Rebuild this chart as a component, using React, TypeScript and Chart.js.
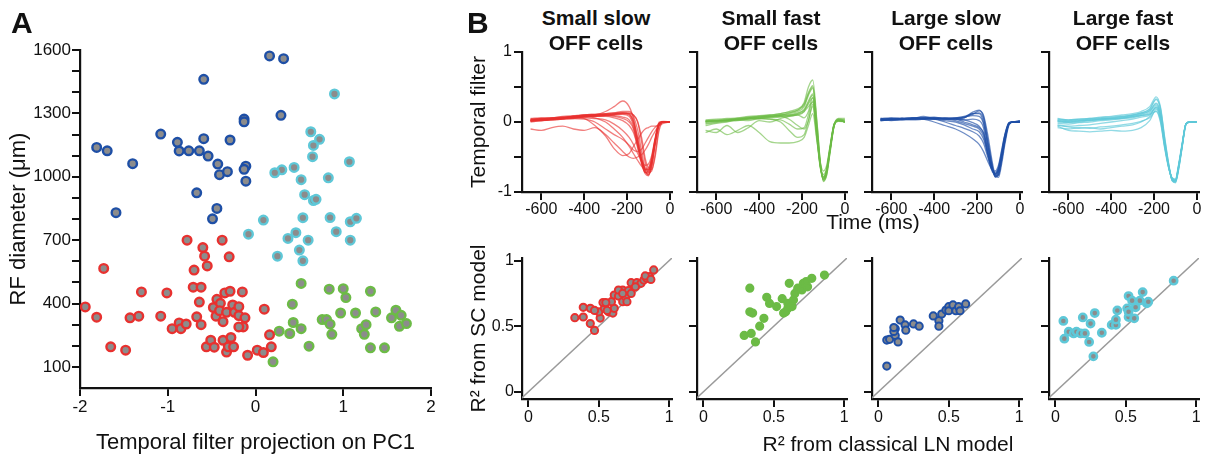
import React, { useEffect, useRef } from 'react';
import { Chart, registerables } from 'chart.js';
Chart.register(...registerables);

const FONT = "'Liberation Sans', Arial, Helvetica, sans-serif";
const INK = '#111111';
const GRAY = '#8c8c8c';
const RED = '#e8312f';
const GREEN = '#6cbb46';
const BLUE = '#1e4fa6';
const CYAN = '#5ec8d8';

// ---------- Panel A: PC1 projection vs RF diameter ----------
const smallSlowA: [number, number][] = [
  [-1.94, 384], [-1.81, 335], [-1.73, 566], [-1.65, 195], [-1.48, 179], [-1.43, 332], [-1.33, 340], [-1.30, 455],
  [-1.08, 340], [-1.01, 450], [-0.95, 281], [-0.87, 308], [-0.85, 281], [-0.79, 303], [-0.78, 700], [-0.70, 558],
  [-0.71, 477], [-0.62, 477], [-0.64, 407], [-0.67, 337], [-0.62, 300], [-0.60, 665], [-0.58, 624], [-0.55, 578],
  [-0.56, 195], [-0.51, 226], [-0.47, 193], [-0.44, 420], [-0.48, 381], [-0.40, 401], [-0.38, 700], [-0.35, 450],
  [-0.30, 621], [-0.29, 458], [-0.45, 340], [-0.41, 366], [-0.37, 314], [-0.37, 226], [-0.33, 170], [-0.33, 358],
  [-0.31, 195], [-0.28, 239], [-0.26, 393], [-0.25, 195], [-0.24, 358], [-0.19, 385], [-0.19, 343], [-0.15, 455],
  [-0.12, 332], [-0.14, 289], [-0.19, 289], [-0.09, 155], [0.02, 179], [0.09, 168], [0.10, 373], [0.16, 252], [0.18, 195],
];
const smallFastA: [number, number][] = [
  [0.20, 124], [0.27, 269], [0.39, 258], [0.42, 397], [0.43, 310], [0.52, 281], [0.52, 495], [0.61, 198],
  [0.76, 324], [0.81, 324], [0.85, 302], [0.87, 254], [0.84, 468], [0.97, 355], [1.00, 470], [1.03, 428],
  [1.14, 355], [1.21, 281], [1.24, 254], [1.26, 300], [1.31, 458], [1.31, 190], [1.37, 360], [1.47, 190],
  [1.55, 332], [1.60, 368], [1.66, 344], [1.64, 292], [1.72, 305],
];
const largeSlowA: [number, number][] = [
  [-1.81, 1139], [-1.69, 1123], [-1.40, 1062], [-1.59, 830], [-1.08, 1202], [-0.89, 1163], [-0.87, 1122],
  [-0.76, 1123], [-0.64, 1123], [-0.59, 1180], [-0.59, 1461], [-0.54, 1098], [-0.43, 1060], [-0.41, 1010],
  [-0.32, 1024], [-0.29, 1174], [-0.13, 1273], [-0.13, 1260], [-0.11, 1050], [-0.13, 1035], [-0.11, 979],
  [-0.67, 924], [-0.44, 850], [-0.49, 801], [0.16, 1572], [0.32, 1559], [0.29, 1291],
];
const largeFastA: [number, number][] = [
  [0.90, 1392], [0.63, 1213], [0.73, 1177], [0.66, 1148], [0.65, 1095], [1.07, 1071], [0.44, 1044], [0.30, 1033],
  [0.22, 1019], [0.52, 986], [0.83, 995], [0.56, 915], [0.66, 887], [0.69, 893], [0.09, 795], [0.54, 806],
  [0.85, 807], [1.08, 787], [1.15, 803], [-0.08, 728], [0.37, 708], [0.46, 735], [0.60, 700], [0.92, 740],
  [1.08, 700], [0.50, 653], [0.54, 602], [0.25, 624],
];
const pc1Ticks = [-2, -1, 0, 1, 2];
const rfTicks = [100, 200, 300, 400, 500, 600, 700, 800, 900, 1000, 1100, 1200, 1300, 1400, 1500, 1600];
const rfLabels = [100, 400, 700, 1000, 1300, 1600];

// ---------- Panel B top: temporal filters ----------
const timeMs = [-650, -600, -550, -500, -450, -400, -350, -300, -260, -220, -190, -170, -150, -130, -115, -100, -85, -70, -50, -30, 0];
const smallSlowFilters = [
  [0.03, 0.04, 0.05, 0.06, 0.07, 0.09, 0.10, 0.11, 0.12, 0.13, 0.12, 0.02, -0.22, -0.52, -0.70, -0.76, -0.60, -0.30, -0.03, 0.0, 0.0],
  [0.01, 0.03, 0.03, 0.05, 0.06, 0.07, 0.08, 0.09, 0.10, 0.11, 0.08, -0.05, -0.32, -0.60, -0.72, -0.70, -0.52, -0.25, 0.0, 0.01, 0.0],
  [0.05, 0.06, 0.06, 0.07, 0.08, 0.10, 0.11, 0.12, 0.13, 0.15, 0.15, 0.08, -0.12, -0.45, -0.68, -0.75, -0.65, -0.36, -0.04, 0.0, 0.0],
  [0.02, 0.02, 0.04, 0.05, 0.06, 0.07, 0.08, 0.08, 0.06, 0.02, -0.05, -0.15, -0.35, -0.58, -0.68, -0.68, -0.55, -0.28, -0.02, 0.0, 0.0],
  [0.00, 0.02, 0.03, 0.04, 0.05, 0.06, 0.05, 0.03, -0.03, -0.12, -0.22, -0.32, -0.45, -0.57, -0.62, -0.60, -0.48, -0.26, -0.03, 0.0, 0.0],
  [0.03, 0.04, 0.05, 0.06, 0.08, 0.09, 0.10, 0.15, 0.22, 0.30, 0.22, 0.05, -0.25, -0.55, -0.68, -0.70, -0.56, -0.30, -0.02, 0.0, 0.0],
  [0.02, 0.03, 0.04, 0.06, 0.07, 0.05, -0.05, -0.20, -0.38, -0.48, -0.45, -0.35, -0.25, -0.15, -0.10, -0.08, -0.06, -0.06, -0.05, -0.02, 0.0],
  [-0.10, -0.12, -0.08, -0.06, -0.10, -0.12, -0.08, -0.18, -0.30, -0.42, -0.50, -0.52, -0.50, -0.46, -0.40, -0.32, -0.22, -0.14, -0.04, 0.0, 0.0],
  [0.04, 0.05, 0.05, 0.06, 0.07, 0.08, 0.06, 0.0, -0.10, -0.22, -0.35, -0.45, -0.55, -0.64, -0.68, -0.65, -0.52, -0.28, -0.03, 0.0, 0.0],
  [0.02, 0.03, 0.05, 0.06, 0.08, 0.09, 0.10, 0.11, 0.12, 0.13, 0.13, 0.10, 0.0, -0.32, -0.58, -0.72, -0.70, -0.48, -0.08, 0.0, 0.0],
  [0.01, 0.02, 0.03, 0.04, 0.05, 0.04, 0.0, -0.10, -0.18, -0.25, -0.33, -0.40, -0.42, -0.38, -0.30, -0.22, -0.14, -0.08, -0.03, 0.0, 0.0],
  [0.03, 0.04, 0.06, 0.07, 0.08, 0.10, 0.11, 0.12, 0.13, 0.13, 0.11, 0.0, -0.28, -0.58, -0.72, -0.74, -0.62, -0.33, -0.03, 0.0, 0.0],
  [0.04, 0.05, 0.06, 0.08, 0.09, 0.10, 0.10, 0.10, 0.09, 0.07, 0.03, -0.08, -0.32, -0.57, -0.66, -0.68, -0.56, -0.30, -0.02, 0.0, 0.0],
  [0.02, 0.02, 0.04, 0.05, 0.08, 0.08, 0.09, 0.10, 0.11, 0.12, 0.12, 0.10, 0.0, -0.25, -0.52, -0.66, -0.68, -0.52, -0.12, 0.0, 0.0],
  [0.03, 0.03, 0.04, 0.06, 0.07, 0.08, 0.09, 0.10, 0.11, 0.12, 0.10, -0.02, -0.30, -0.60, -0.74, -0.77, -0.62, -0.32, -0.02, 0.0, 0.0],
  [0.02, 0.04, 0.04, 0.05, 0.06, 0.08, 0.08, 0.09, 0.08, 0.05, 0.0, -0.10, -0.38, -0.62, -0.72, -0.72, -0.57, -0.30, -0.02, 0.0, 0.0],
];
const smallFastFilters = [
  [-0.02, 0.0, 0.02, 0.03, 0.04, 0.05, 0.07, 0.09, 0.10, 0.13, 0.18, 0.30, 0.40, -0.20, -0.62, -0.80, -0.70, -0.40, -0.04, 0.02, 0.0],
  [0.0, 0.01, 0.02, 0.04, 0.05, 0.06, 0.08, 0.10, 0.12, 0.15, 0.22, 0.38, 0.48, -0.12, -0.60, -0.82, -0.72, -0.42, -0.05, 0.03, 0.0],
  [0.02, 0.02, 0.03, 0.05, 0.06, 0.07, 0.09, 0.10, 0.13, 0.17, 0.28, 0.50, 0.60, 0.0, -0.55, -0.85, -0.76, -0.45, -0.05, 0.04, 0.03],
  [-0.03, -0.01, 0.01, 0.02, 0.04, 0.05, 0.06, 0.07, 0.08, 0.11, 0.15, 0.22, 0.28, -0.25, -0.65, -0.80, -0.68, -0.38, -0.03, 0.02, 0.0],
  [-0.05, -0.02, 0.0, 0.03, 0.02, 0.05, 0.04, 0.03, -0.03, -0.10, -0.08, 0.10, 0.30, -0.15, -0.60, -0.78, -0.68, -0.40, -0.04, 0.03, 0.0],
  [0.0, 0.02, 0.03, 0.04, 0.06, 0.05, 0.04, 0.0, -0.12, -0.22, -0.18, 0.02, 0.22, -0.25, -0.62, -0.75, -0.66, -0.37, -0.03, 0.02, 0.0],
  [-0.15, -0.10, -0.18, -0.12, -0.05, -0.15, -0.28, -0.30, -0.30, -0.28, -0.22, -0.05, 0.12, -0.28, -0.58, -0.70, -0.62, -0.36, -0.03, 0.02, 0.0],
  [-0.12, -0.15, -0.05, -0.15, -0.08, 0.02, 0.0, 0.05, 0.08, 0.10, 0.15, 0.28, 0.38, -0.15, -0.62, -0.82, -0.72, -0.42, -0.05, 0.03, 0.01],
  [0.02, 0.03, 0.04, 0.05, 0.07, 0.08, 0.10, 0.12, 0.15, 0.19, 0.26, 0.42, 0.52, -0.05, -0.58, -0.83, -0.74, -0.43, -0.04, 0.05, 0.05],
  [0.01, 0.01, 0.03, 0.04, 0.06, 0.08, 0.08, 0.10, 0.10, 0.10, 0.06, 0.15, 0.35, -0.12, -0.60, -0.80, -0.70, -0.41, -0.05, 0.02, 0.0],
  [0.0, 0.02, 0.02, 0.03, 0.05, 0.07, 0.08, 0.08, 0.04, -0.05, -0.10, 0.02, 0.25, -0.18, -0.62, -0.78, -0.70, -0.41, -0.04, 0.01, 0.0],
  [0.03, 0.04, 0.05, 0.06, 0.08, 0.09, 0.10, 0.12, 0.14, 0.17, 0.24, 0.40, 0.50, -0.02, -0.56, -0.84, -0.76, -0.46, -0.06, 0.04, 0.03],
  [0.01, 0.02, 0.02, 0.03, 0.05, 0.06, 0.07, 0.08, 0.09, 0.12, 0.17, 0.26, 0.34, -0.20, -0.64, -0.82, -0.70, -0.40, -0.04, 0.02, 0.02],
];
const largeSlowFilters = [
  [0.03, 0.04, 0.04, 0.05, 0.05, 0.04, 0.05, 0.05, 0.06, 0.12, 0.12, 0.0, -0.35, -0.65, -0.78, -0.72, -0.50, -0.25, -0.02, 0.0, 0.01],
  [0.02, 0.03, 0.03, 0.04, 0.04, 0.05, 0.04, 0.04, 0.06, 0.14, 0.17, 0.08, -0.25, -0.60, -0.79, -0.76, -0.55, -0.28, -0.03, 0.0, 0.02],
  [0.04, 0.04, 0.05, 0.04, 0.06, 0.05, 0.05, 0.04, 0.03, 0.04, 0.02, -0.08, -0.45, -0.70, -0.74, -0.65, -0.42, -0.18, -0.01, 0.0, 0.0],
  [0.03, 0.05, 0.04, 0.06, 0.05, 0.04, 0.0, -0.05, -0.09, -0.14, -0.20, -0.30, -0.50, -0.68, -0.72, -0.66, -0.45, -0.20, -0.01, 0.0, 0.0],
  [0.05, 0.04, 0.05, 0.06, 0.04, 0.0, -0.05, -0.10, -0.16, -0.24, -0.32, -0.42, -0.56, -0.68, -0.70, -0.62, -0.40, -0.18, -0.01, 0.0, 0.0],
  [0.02, 0.03, 0.04, 0.05, 0.08, 0.05, 0.05, 0.04, 0.0, -0.04, -0.08, -0.15, -0.38, -0.65, -0.75, -0.70, -0.50, -0.24, -0.02, 0.0, 0.0],
  [0.04, 0.05, 0.05, 0.06, 0.06, 0.07, 0.05, 0.06, 0.08, 0.12, 0.13, 0.05, -0.28, -0.62, -0.78, -0.76, -0.54, -0.27, -0.02, 0.0, 0.02],
  [0.03, 0.03, 0.04, 0.03, 0.04, 0.05, 0.06, 0.05, 0.03, -0.01, -0.06, -0.16, -0.42, -0.66, -0.74, -0.68, -0.47, -0.22, -0.02, 0.0, 0.01],
  [0.02, 0.04, 0.03, 0.05, 0.05, 0.06, 0.04, 0.05, 0.07, 0.11, 0.16, 0.10, -0.18, -0.55, -0.76, -0.79, -0.60, -0.32, -0.04, 0.0, 0.0],
  [0.04, 0.04, 0.05, 0.05, 0.05, 0.04, 0.02, 0.0, -0.04, -0.10, -0.14, -0.24, -0.46, -0.68, -0.74, -0.68, -0.46, -0.21, -0.02, 0.0, 0.0],
  [0.05, 0.06, 0.05, 0.04, 0.05, 0.06, 0.05, 0.06, 0.07, 0.09, 0.08, -0.02, -0.32, -0.63, -0.77, -0.75, -0.53, -0.26, -0.02, 0.0, 0.01],
  [0.03, 0.02, 0.04, 0.05, 0.06, 0.05, 0.04, 0.02, -0.02, -0.06, -0.10, -0.20, -0.45, -0.67, -0.76, -0.71, -0.48, -0.22, -0.02, 0.0, 0.0],
];
const largeFastFilters = [
  [0.02, 0.01, 0.02, 0.03, 0.04, 0.05, 0.06, 0.08, 0.10, 0.14, 0.24, 0.10, -0.32, -0.66, -0.82, -0.84, -0.64, -0.36, -0.02, 0.0, 0.0],
  [0.04, 0.03, 0.04, 0.05, 0.06, 0.07, 0.08, 0.10, 0.13, 0.18, 0.32, 0.18, -0.26, -0.64, -0.83, -0.86, -0.66, -0.38, -0.03, 0.0, 0.0],
  [-0.02, -0.03, -0.01, 0.0, 0.02, 0.03, 0.05, 0.06, 0.09, 0.12, 0.20, 0.05, -0.35, -0.67, -0.81, -0.83, -0.62, -0.35, -0.02, 0.0, 0.0],
  [-0.08, -0.10, -0.08, -0.09, -0.07, -0.06, -0.04, -0.02, 0.01, 0.06, 0.16, 0.02, -0.36, -0.67, -0.80, -0.82, -0.62, -0.34, -0.02, 0.0, 0.0],
  [-0.06, -0.12, -0.13, -0.14, -0.13, -0.12, -0.13, -0.12, -0.08, 0.02, 0.18, 0.06, -0.33, -0.66, -0.81, -0.84, -0.63, -0.36, -0.02, 0.0, 0.0],
  [0.05, 0.03, 0.04, 0.05, 0.07, 0.08, 0.10, 0.12, 0.15, 0.22, 0.36, 0.22, -0.22, -0.62, -0.84, -0.87, -0.68, -0.39, -0.03, 0.0, 0.0],
  [0.0, 0.0, 0.02, 0.02, 0.04, 0.05, 0.06, 0.07, 0.09, 0.11, 0.15, 0.0, -0.38, -0.68, -0.80, -0.82, -0.60, -0.33, -0.02, 0.0, 0.0],
  [0.03, 0.02, 0.03, 0.04, 0.05, 0.06, 0.08, 0.09, 0.12, 0.16, 0.27, 0.14, -0.29, -0.65, -0.83, -0.85, -0.65, -0.37, -0.02, 0.0, 0.0],
  [-0.04, -0.06, -0.05, -0.04, -0.02, 0.0, 0.02, 0.04, 0.07, 0.10, 0.21, 0.08, -0.33, -0.66, -0.82, -0.84, -0.63, -0.36, -0.02, 0.0, 0.0],
  [0.01, -0.01, 0.0, 0.02, 0.03, 0.05, 0.07, 0.10, 0.13, 0.19, 0.33, 0.20, -0.24, -0.63, -0.84, -0.86, -0.67, -0.38, -0.03, 0.0, 0.0],
  [0.02, 0.0, 0.01, 0.03, 0.04, 0.04, 0.05, 0.08, 0.11, 0.16, 0.26, 0.12, -0.30, -0.66, -0.83, -0.85, -0.64, -0.36, -0.02, 0.0, 0.0],
  [-0.05, -0.07, -0.09, -0.08, -0.10, -0.08, -0.06, -0.04, 0.0, 0.08, 0.22, 0.10, -0.30, -0.65, -0.82, -0.84, -0.64, -0.36, -0.02, 0.0, 0.0],
];
const timeTicks = [-600, -400, -200, 0];
const filterTicks = [-1, -0.5, 0, 0.5, 1];
const filterLabels = [-1, 0, 1];

// ---------- Panel B bottom: R^2 (LN model x, SC model y) ----------
const smallSlowR2: [number, number][] = [
  [0.33, 0.565], [0.39, 0.57], [0.39, 0.644], [0.44, 0.636], [0.44, 0.52], [0.47, 0.468], [0.51, 0.562], [0.50, 0.61],
  [0.54, 0.636], [0.53, 0.68], [0.57, 0.61], [0.60, 0.60], [0.61, 0.636], [0.59, 0.687], [0.61, 0.738], [0.64, 0.73],
  [0.67, 0.687], [0.67, 0.776], [0.69, 0.725], [0.71, 0.771], [0.73, 0.75], [0.73, 0.832], [0.77, 0.832], [0.80, 0.827],
  [0.82, 0.852], [0.84, 0.865], [0.86, 0.878], [0.89, 0.929], [0.76, 0.80], [0.70, 0.687], [0.55, 0.68], [0.64, 0.776],
  [0.83, 0.883], [0.87, 0.857], [0.47, 0.62], [0.56, 0.62], [0.67, 0.75],
];
const smallFastR2: [number, number][] = [
  [0.33, 0.79], [0.33, 0.61], [0.35, 0.60], [0.29, 0.43], [0.34, 0.445], [0.37, 0.38], [0.40, 0.50], [0.43, 0.56],
  [0.45, 0.72], [0.47, 0.674], [0.52, 0.65], [0.56, 0.71], [0.57, 0.60], [0.60, 0.636], [0.60, 0.674], [0.61, 0.827],
  [0.64, 0.70], [0.65, 0.75], [0.67, 0.79], [0.70, 0.776], [0.71, 0.827], [0.73, 0.84], [0.77, 0.865], [0.74, 0.80],
  [0.86, 0.89], [0.585, 0.61], [0.63, 0.65],
];
const largeSlowR2: [number, number][] = [
  [0.06, 0.196], [0.06, 0.394], [0.08, 0.40], [0.12, 0.43], [0.12, 0.48], [0.11, 0.46], [0.14, 0.38], [0.155, 0.547],
  [0.19, 0.51], [0.195, 0.47], [0.25, 0.517], [0.29, 0.50], [0.39, 0.578], [0.43, 0.542], [0.43, 0.50], [0.45, 0.593],
  [0.48, 0.623], [0.50, 0.649], [0.50, 0.618], [0.53, 0.662], [0.55, 0.618], [0.57, 0.649], [0.58, 0.618], [0.62, 0.67],
  [0.11, 0.49],
];
const largeFastR2: [number, number][] = [
  [0.057, 0.54], [0.064, 0.405], [0.095, 0.458], [0.13, 0.445], [0.15, 0.458], [0.18, 0.445], [0.21, 0.445], [0.195, 0.567],
  [0.24, 0.38], [0.25, 0.52], [0.28, 0.60], [0.27, 0.27], [0.33, 0.45], [0.40, 0.51], [0.43, 0.51], [0.43, 0.55],
  [0.44, 0.62], [0.51, 0.636], [0.52, 0.73], [0.52, 0.57], [0.52, 0.61], [0.545, 0.695], [0.56, 0.56], [0.57, 0.644],
  [0.60, 0.695], [0.62, 0.76], [0.65, 0.674], [0.66, 0.687], [0.84, 0.847],
];
const r2Ticks = [0, 0.5, 1];
const identityLine: [number, number][] = [[-0.1, -0.1], [1.1, 1.1]];

// ---------- layout ----------
const colLeft = [522, 697, 872, 1049];
const colTitles = [['Small slow', 'OFF cells'], ['Small fast', 'OFF cells'], ['Large slow', 'OFF cells'], ['Large fast', 'OFF cells']];
const filterColors = ['rgba(232,49,47,0.62)', 'rgba(108,187,70,0.62)', 'rgba(30,79,166,0.65)', 'rgba(94,200,216,0.68)'];
const pointColors = [RED, GREEN, BLUE, CYAN];
const filterSets = [smallSlowFilters, smallFastFilters, largeSlowFilters, largeFastFilters];
const r2Sets = [smallSlowR2, smallFastR2, largeSlowR2, largeFastR2];

type AxisOpts = {
  min: number; max: number; tickValues: number[]; labelValues: number[];
  fit: number; horizontal: boolean; fontSize: number; showLabels: boolean; tickPad: number;
  title?: string; titleSize?: number; titlePad?: { top: number; bottom: number };
};

function makeAxis(o: AxisOpts) {
  return {
    type: 'linear',
    position: o.horizontal ? 'bottom' : 'left',
    min: o.min,
    max: o.max,
    border: { display: true, color: INK, width: 2.2 },
    grid: { display: true, drawOnChartArea: false, drawTicks: true, tickLength: 8, color: INK, lineWidth: 2 },
    ticks: {
      display: o.showLabels,
      color: INK,
      autoSkip: false,
      maxRotation: 0,
      minRotation: 0,
      padding: o.tickPad,
      font: { family: FONT, size: o.fontSize },
      callback: (v: number) => (o.labelValues.includes(v) ? String(v) : ''),
    },
    title: o.title
      ? { display: true, text: o.title, color: INK, font: { family: FONT, size: o.titleSize }, padding: o.titlePad }
      : { display: false },
    afterBuildTicks: (s: any) => {
      s.ticks = o.tickValues.map((v) => ({ value: v }));
    },
    afterFit: (s: any) => {
      if (o.horizontal) s.height = o.fit;
      else s.width = o.fit;
    },
  };
}

const baseOptions = (padding: any, scales: any) => ({
  responsive: false,
  animation: false,
  devicePixelRatio: 1,
  events: [],
  layout: { padding },
  plugins: { legend: { display: false }, tooltip: { enabled: false }, title: { display: false } },
  scales,
});

type Box = { left: number; top: number; width: number; height: number };

function ChartBox({ box, make }: { box: Box; make: () => any }) {
  const ref = useRef<HTMLCanvasElement>(null);
  useEffect(() => {
    const chart = new Chart(ref.current as HTMLCanvasElement, make());
    return () => chart.destroy();
  }, []);
  return (
    <canvas
      ref={ref}
      width={box.width}
      height={box.height}
      style={{ position: 'absolute', left: box.left, top: box.top, width: box.width, height: box.height }}
    />
  );
}

function Txt({ x, baseline, size, bold, align, children }: { x: number; baseline: number; size: number; bold?: boolean; align?: 'left' | 'center'; children: React.ReactNode }) {
  const w = 400;
  const top = baseline - 0.8465 * size;
  const left = align === 'center' ? x - w / 2 : x;
  return (
    <div
      style={{
        position: 'absolute', left, top, width: align === 'center' ? w : undefined,
        textAlign: align === 'center' ? 'center' : 'left', fontFamily: FONT, fontSize: size,
        lineHeight: `${size}px`, fontWeight: bold ? 700 : 400, color: INK, whiteSpace: 'nowrap',
      }}
    >
      {children}
    </div>
  );
}

const toXY = (pairs: [number, number][]) => pairs.map(([x, y]) => ({ x, y }));

function panelAConfig() {
  const ds = [
    { data: smallSlowA, c: RED },
    { data: largeSlowA, c: BLUE },
    { data: largeFastA, c: CYAN },
    { data: smallFastA, c: GREEN },
  ].map((d) => ({
    data: toXY(d.data),
    pointRadius: 4.3,
    pointBorderWidth: 2.4,
    pointBackgroundColor: GRAY,
    pointBorderColor: d.c,
    showLine: false,
  }));
  return {
    type: 'scatter',
    data: { datasets: ds },
    options: baseOptions({ top: 12, right: 14, left: 0, bottom: 0 }, {
      x: makeAxis({ min: -2, max: 2, tickValues: pc1Ticks, labelValues: pc1Ticks, fit: 69, horizontal: true, fontSize: 17, showLabels: true, tickPad: 1, title: 'Temporal filter projection on PC1', titleSize: 22, titlePad: { top: 0, bottom: 1 } }),
      y: makeAxis({ min: 0, max: 1600, tickValues: rfTicks, labelValues: rfLabels, fit: 80, horizontal: false, fontSize: 17, showLabels: true, tickPad: 1, title: 'RF diameter (\u03bcm)', titleSize: 22, titlePad: { top: 6, bottom: 0 } }),
    }),
  };
}

function filterConfig(j: number) {
  const first = j === 0;
  const yw = first ? 67 : 20;
  const ds = filterSets[j].map((trace) => ({
    data: trace.map((v, i) => ({ x: timeMs[i], y: v })),
    borderColor: filterColors[j],
    borderWidth: 1.3,
    pointRadius: 0,
    cubicInterpolationMode: 'monotone',
    fill: false,
  }));
  return {
    type: 'line',
    data: { datasets: ds },
    options: baseOptions({ top: 12, right: 12, left: 0, bottom: 0 }, {
      x: makeAxis({ min: -690, max: 10, tickValues: timeTicks, labelValues: timeTicks, fit: 48, horizontal: true, fontSize: 16, showLabels: true, tickPad: 0 }),
      y: makeAxis({ min: -1, max: 1, tickValues: filterTicks, labelValues: filterLabels, fit: yw, horizontal: false, fontSize: 16, showLabels: first, tickPad: 2, title: first ? 'Temporal filter' : undefined, titleSize: 21, titlePad: { top: 12, bottom: 0 } }),
    }),
  };
}

function r2Config(j: number) {
  const first = j === 0;
  const yw = first ? 67 : 20;
  const solid = j === 1;
  const pts = {
    data: toXY(r2Sets[j]),
    pointRadius: 3.6,
    pointBorderWidth: j === 3 ? 2.6 : 2,
    pointBackgroundColor: solid ? GREEN : GRAY,
    pointBorderColor: pointColors[j],
    showLine: false,
  };
  const line = {
    data: toXY(identityLine),
    showLine: true,
    pointRadius: 0,
    borderColor: '#9a9a9a',
    borderWidth: 1.5,
  };
  return {
    type: 'scatter',
    data: { datasets: [pts, line] },
    options: baseOptions({ top: 13, right: 12, left: 0, bottom: 0 }, {
      x: makeAxis({ min: -0.045, max: 1.02, tickValues: r2Ticks, labelValues: r2Ticks, fit: 36, horizontal: true, fontSize: 16, showLabels: true, tickPad: 1 }),
      y: makeAxis({ min: -0.055, max: 1.02, tickValues: r2Ticks, labelValues: r2Ticks, fit: yw, horizontal: false, fontSize: 16, showLabels: first, tickPad: 0, title: first ? 'R\u00b2 from SC model' : undefined, titleSize: 21, titlePad: { top: 12, bottom: 0 } }),
    }),
  };
}

export default function App() {
  return (
    <div style={{ position: 'absolute', left: 0, top: 0, width: 1206, height: 457, background: '#ffffff', overflow: 'hidden' }}>
      <ChartBox box={{ left: 0, top: 38, width: 445, height: 419 }} make={panelAConfig} />
      {colLeft.map((L, j) => {
        const yw = j === 0 ? 67 : 20;
        return (
          <React.Fragment key={j}>
            <ChartBox box={{ left: L - yw, top: 40, width: yw + 150 + 12, height: 200 }} make={() => filterConfig(j)} />
            <ChartBox box={{ left: L - yw, top: 245, width: yw + 150 + 12, height: 190 }} make={() => r2Config(j)} />
            <Txt x={L + 74} baseline={25} size={21} bold align="center">{colTitles[j][0]}</Txt>
            <Txt x={L + 74} baseline={50} size={21} bold align="center">{colTitles[j][1]}</Txt>
          </React.Fragment>
        );
      })}
      <Txt x={11} baseline={33} size={30} bold>A</Txt>
      <Txt x={467} baseline={33} size={30} bold>B</Txt>
      <Txt x={873} baseline={229} size={21} align="center">Time (ms)</Txt>
      <Txt x={888} baseline={451} size={21} align="center">R² from classical LN model</Txt>
    </div>
  );
}
